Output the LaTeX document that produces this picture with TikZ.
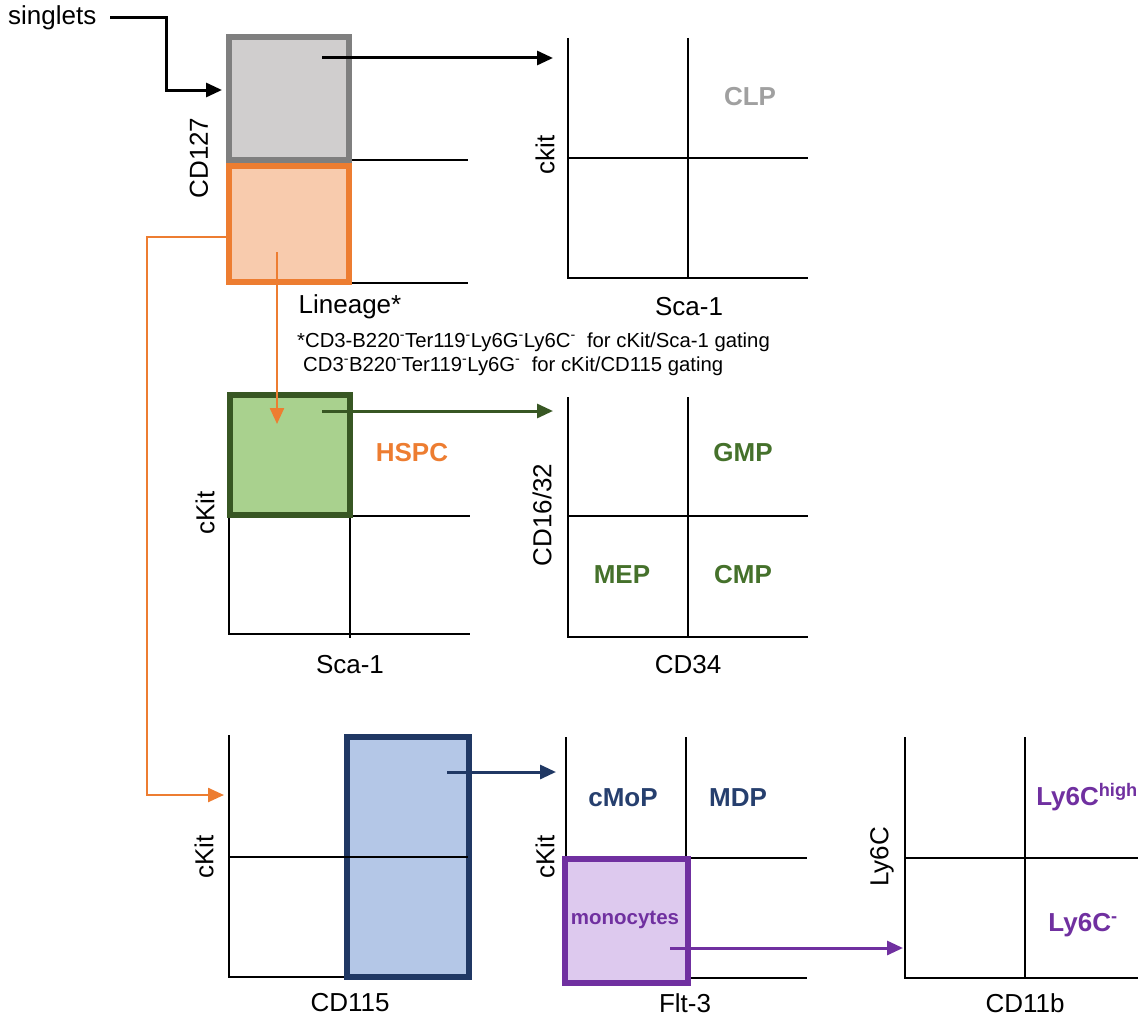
\documentclass[tikz,border=0pt]{standalone}
\usepackage{fontspec}
\setmainfont{Liberation Sans}
\usetikzlibrary{arrows.meta}
\definecolor{gstroke}{HTML}{7F7F7F}
\definecolor{gfill}{HTML}{D0CECE}
\definecolor{ostroke}{HTML}{ED7D31}
\definecolor{ofill}{HTML}{F8CBAD}
\definecolor{grstroke}{HTML}{385723}
\definecolor{grfill}{HTML}{A9D18E}
\definecolor{grtext}{HTML}{45712B}
\definecolor{bstroke}{HTML}{203864}
\definecolor{bfill}{HTML}{B4C7E7}
\definecolor{btext}{HTML}{263F6E}
\definecolor{pstroke}{HTML}{7030A0}
\definecolor{pfill}{HTML}{DDC9EE}
\definecolor{clptext}{HTML}{A0A0A0}
\begin{document}
\begin{tikzpicture}[x=1pt,y=-1pt,
  axis/.style={line width=2.6pt,black},
  gate/.style={draw,line width=6pt,inner sep=0pt},
  conn/.style={line width=3pt,-{Triangle[length=16pt,width=14pt]}},
  lbl/.style={font=\fontsize{26}{30}\selectfont,inner sep=0pt},
  pop/.style={font=\fontsize{26}{30}\selectfont\bfseries,inner sep=0pt},
  note/.style={font=\fontsize{20.3}{24}\selectfont,inner sep=0pt,anchor=west}]
\useasboundingbox (0,0) rectangle (1138,1025);

% ---------- Plot 1 (CD127 / Lineage) ----------
\coordinate (p1a) at (352,160);
\coordinate (p1b) at (468,160);
\coordinate (p1c) at (352,283);
\coordinate (p1d) at (468,283);
\draw[axis] (p1a) -- (p1b);
\draw[axis] (p1c) -- (p1d);
\node[gate,draw=ostroke,fill=ofill,minimum width=120pt,minimum height=116pt] (orange) at (289,224) {};
\node[gate,draw=gstroke,fill=gfill,minimum width=120pt,minimum height=122pt] (gray) at (289,98.5) {};
\node[lbl,rotate=90] (cd127) at (199,158) {CD127};
\node[lbl] (lineage) at (350,307) {Lineage*};
\node[lbl,anchor=west] (singlets) at (8,18) {singlets};

% ---------- Plot 2 (CLP) ----------
\coordinate (p2tl) at (568,38);
\coordinate (p2bl) at (568,278);
\coordinate (p2br) at (808,278);
\coordinate (p2mt) at (688,38);
\coordinate (p2mb) at (688,278);
\coordinate (p2ml) at (568,158);
\coordinate (p2mr) at (808,158);
\draw[axis] (p2tl) -- (p2bl) -- (p2br);
\draw[axis] (p2mt) -- (p2mb);
\draw[axis] (p2ml) -- (p2mr);
\node[pop,text=clptext] (clp) at (750,97) {CLP};
\node[lbl,rotate=90] (ckit2) at (545,155) {ckit};
\node[lbl] (sca2) at (689,307) {Sca-1};

% ---------- footnote ----------
\node[note] (fn1) at (297,342) {*CD3-B220\textsuperscript{-}Ter119\textsuperscript{-}Ly6G\textsuperscript{-}Ly6C\textsuperscript{-}\ \ for cKit/Sca-1 gating};
\node[note] (fn2) at (303,366) {CD3\textsuperscript{-}B220\textsuperscript{-}Ter119\textsuperscript{-}Ly6G\textsuperscript{-}\ \ for cKit/CD115 gating};

% ---------- Plot 3 (HSPC) ----------
\coordinate (p3tl) at (229,392);
\coordinate (p3bl) at (229,634);
\coordinate (p3br) at (470,634);
\coordinate (p3mt) at (350,516);
\coordinate (p3mb) at (350,638);
\coordinate (p3ml) at (352,516);
\coordinate (p3mr) at (470,516);
\draw[axis] (p3tl) -- (p3bl) -- (p3br);
\draw[axis] (p3mt) -- (p3mb);
\draw[axis] (p3ml) -- (p3mr);
\node[gate,draw=grstroke,fill=grfill,minimum width=120pt,minimum height=120pt] (green) at (290,455) {};
\node[pop,text=ostroke] (hspc) at (412,453) {HSPC};
\node[lbl,rotate=90] (ckit3) at (205,513) {cKit};
\node[lbl] (sca3) at (350,665) {Sca-1};

% ---------- Plot 4 (CD34) ----------
\coordinate (p4tl) at (568,397);
\coordinate (p4bl) at (568,637);
\coordinate (p4br) at (808,637);
\coordinate (p4mt) at (688,397);
\coordinate (p4mb) at (688,637);
\coordinate (p4ml) at (568,516);
\coordinate (p4mr) at (808,516);
\draw[axis] (p4tl) -- (p4bl) -- (p4br);
\draw[axis] (p4mt) -- (p4mb);
\draw[axis] (p4ml) -- (p4mr);
\node[pop,text=grtext] (gmp) at (743,453) {GMP};
\node[pop,text=grtext] (mep) at (622,575) {MEP};
\node[pop,text=grtext] (cmp) at (743,575) {CMP};
\node[lbl,rotate=90] (cd1632) at (542,515) {CD16/32};
\node[lbl] (cd34) at (688,665) {CD34};

% ---------- Plot 5 (CD115) ----------
\coordinate (p5tl) at (229,735);
\coordinate (p5bl) at (229,977);
\coordinate (p5br) at (350,977);
\coordinate (p5ml) at (229,857);
\coordinate (p5mr) at (468,857);
\draw[axis] (p5tl) -- (p5bl) -- (p5br);
\node[gate,draw=bstroke,fill=bfill,minimum width=122pt,minimum height=240pt] (blue) at (408,857) {};
\draw[axis] (p5ml) -- (p5mr);
\node[lbl,rotate=90] (ckit5) at (204,857) {cKit};
\node[lbl] (cd115) at (350,1003) {CD115};

% ---------- Plot 6 (Flt-3) ----------
\coordinate (p6tl) at (566,737);
\coordinate (p6bl) at (566,978);
\coordinate (p6mt) at (686,737);
\coordinate (p6mb) at (686,858);
\coordinate (p6ml) at (690,858);
\coordinate (p6mr) at (807,858);
\coordinate (p6bb) at (690,978);
\coordinate (p6br) at (807,978);
\draw[axis] (p6tl) -- (p6bl);
\draw[axis] (p6mt) -- (p6mb);
\draw[axis] (p6ml) -- (p6mr);
\draw[axis] (p6bb) -- (p6br);
\node[gate,draw=pstroke,fill=pfill,minimum width=123pt,minimum height=124pt] (purple) at (626.5,921) {};
\node[pop,text=btext] (cmop) at (623,798) {cMoP};
\node[pop,text=btext] (mdp) at (738,798) {MDP};
\node[pop,text=pstroke,font=\fontsize{20.5}{24}\selectfont\bfseries] (mono) at (625,920) {monocytes};
\node[lbl,rotate=90] (ckit6) at (545,857) {cKit};
\node[lbl] (flt3) at (685,1003) {Flt-3};

% ---------- Plot 7 (CD11b) ----------
\coordinate (p7tl) at (905,737);
\coordinate (p7bl) at (905,978);
\coordinate (p7br) at (1138,978);
\coordinate (p7mt) at (1025,737);
\coordinate (p7mb) at (1025,978);
\coordinate (p7ml) at (905,858);
\coordinate (p7mr) at (1138,858);
\draw[axis] (p7tl) -- (p7bl) -- (p7br);
\draw[axis] (p7mt) -- (p7mb);
\draw[axis] (p7ml) -- (p7mr);
\node[pop,text=pstroke] (ly6chi) at (1087,797) {Ly6C\textsuperscript{high}};
\node[pop,text=pstroke] (ly6cneg) at (1083,925) {Ly6C\textsuperscript{-}};
\node[lbl,rotate=90] (ly6c) at (882,857) {Ly6C};
\node[lbl] (cd11b) at (1025,1003) {CD11b};

% ---------- connectors ----------
\coordinate (s0) at (110,18);
\coordinate (s1) at (166,18);
\coordinate (s2) at (166,90);
\coordinate (s3) at (222,90);
\draw[conn] (s0) -- (s1) -- (s2) -- (s3);

\coordinate (g0) at (322,58);
\coordinate (g1) at (553,58);
\draw[conn] (g0) -- (g1);

\coordinate (o0) at (277,252);
\coordinate (o1) at (277,424);
\draw[conn,ostroke,line width=2.4pt] (o0) -- (o1);

\coordinate (o2) at (228,237);
\coordinate (o3) at (147,237);
\coordinate (o4) at (147,795);
\coordinate (o5) at (224,795);
\draw[conn,ostroke,line width=2.4pt] (o2) -- (o3) -- (o4) -- (o5);

\coordinate (gr0) at (322,411);
\coordinate (gr1) at (553,411);
\draw[conn,grstroke] (gr0) -- (gr1);

\coordinate (b0) at (447,772);
\coordinate (b1) at (556,772);
\draw[conn,bstroke] (b0) -- (b1);

\coordinate (pu0) at (670,948);
\coordinate (pu1) at (903,948);
\draw[conn,pstroke] (pu0) -- (pu1);
\end{tikzpicture}
\end{document}
